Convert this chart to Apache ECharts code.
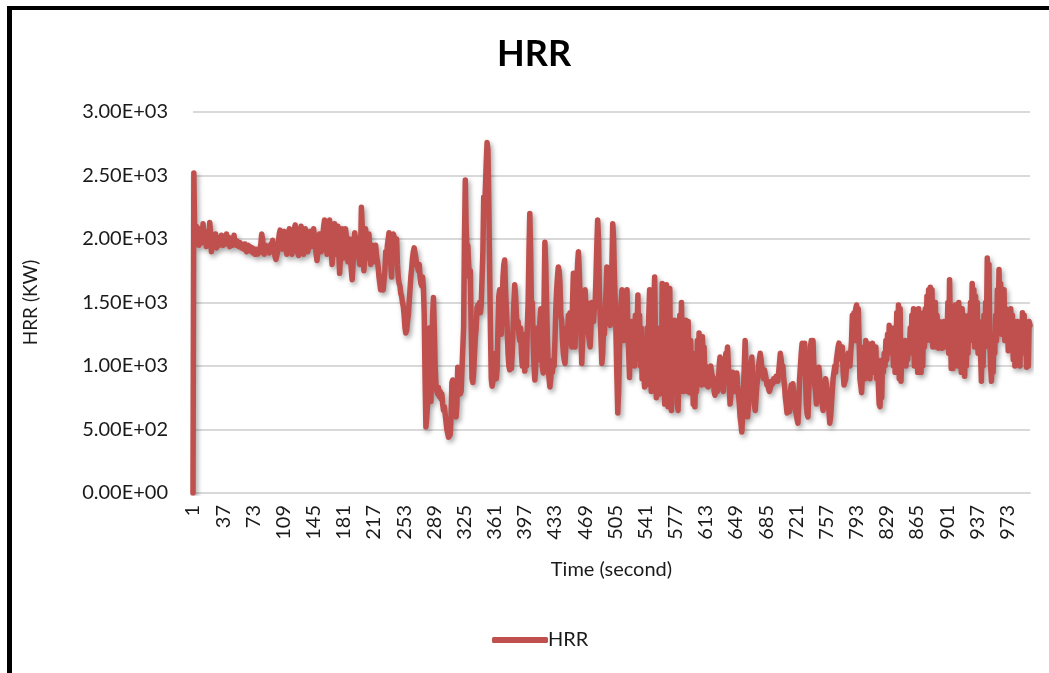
<!DOCTYPE html>
<html>
<head>
<meta charset="utf-8">
<title>HRR</title>
<script src="https://cdn.jsdelivr.net/npm/echarts@6/dist/echarts.min.js"></script>
<style>
  html, body { margin: 0; padding: 0; background: #fff; }
  #chart { width: 1049px; height: 673px; }
</style>
</head>
<body>
<div id="chart"></div>
<script>
// Heat release rate (kW), one reading per second, in 200-second blocks.
const hrr0001to0200 = [
  0, 2520, 2050, 1980, 2100, 2000, 2060, 1950, 2080, 2000, 2050, 1970, 2120, 2000, 1980, 2060, 1940, 2030, 2000, 1960,
  2130, 2050, 1900, 1990, 2020, 1960, 2000, 2040, 1930, 1990, 2010, 1950, 2000, 1970, 2030, 1980, 1950, 2000, 1960, 1990,
  2040, 1960, 1990, 2010, 1940, 1980, 2000, 1950, 1970, 2030, 1960, 1990, 1950, 1980, 1960, 1940, 1970, 1950, 1930, 1960,
  1950, 1920, 1960, 1940, 1900, 1930, 1950, 1910, 1940, 1920, 1900, 1930, 1890, 1910, 1880, 1920, 1900, 1880, 1910, 1890,
  1900, 1960, 2040, 2000, 1930, 1880, 1920, 1950, 1900, 1940, 1910, 1890, 1930, 1960, 1920, 1990, 1950, 1900, 1860, 1840,
  1830, 1900, 1980, 2040, 2070, 2000, 1950, 1920, 1980, 2060, 2000, 1920, 1880, 1950, 2030, 2080, 2000, 1930, 1880, 1920,
  2000, 2080, 2110, 2040, 1960, 1890, 1870, 1950, 2050, 2100, 2000, 1920, 1880, 1990, 2080, 2050, 1960, 1900, 1950, 2030,
  2060, 2000, 1940, 2020, 2080, 2000, 1950, 1880, 1830, 1900, 1980, 2040, 1970, 1900, 1950, 2030, 2100, 2150, 2060, 1950,
  1880, 1950, 2080, 2150, 2050, 1920, 1800, 1900, 2070, 2120, 2000, 1880, 1950, 2100, 1900, 1730, 1850, 2000, 2080, 1950,
  1850, 1950, 2080, 2020, 1900, 1820, 1900, 2000, 1850, 1750, 1680, 1800, 1950, 2050, 2000, 1900, 1950, 2000, 1850, 1800
];
const hrr0201to0400 = [
  1900, 2250, 2100, 1850, 1750, 1900, 2080, 1950, 1850, 1950, 2040, 1900, 1800, 1850, 1950, 1900, 1820, 1900, 1950, 1870,
  1830, 1780, 1700, 1650, 1600, 1700, 1620, 1600, 1590, 1750, 1900, 1850, 1950, 2000, 2050, 2050, 1800, 1700, 1950, 2040,
  2040, 2000, 1900, 2000, 1800, 1700, 1650, 1630, 1570, 1550, 1500, 1470, 1400, 1300, 1260, 1280, 1350, 1400, 1500, 1600,
  1700, 1770, 1850, 1900, 1930, 1920, 1850, 1800, 1780, 1750, 1800, 1700, 1650, 1630, 1700, 1620, 1400, 900, 520, 600,
  700, 900, 1300, 800, 720, 1100, 1400, 1540, 1300, 1000, 850, 800, 780, 830, 760, 800, 740, 780, 700, 650,
  680, 620, 560, 500, 470, 440, 430, 460, 600, 870, 890, 750, 650, 620, 600, 700, 990, 900, 800, 780,
  800, 790, 800, 1300, 2000, 2465, 2100, 1900, 1950, 1800, 1700, 1750, 1300, 900, 870, 950, 1100, 1230, 1300, 1460,
  1480, 1440, 1500, 1420, 1480, 1480, 1900, 2330, 2250, 2400, 2600, 2760, 2700, 2300, 1800, 1300, 900, 840, 880, 950,
  1000, 1100, 900, 980, 1300, 1550, 1600, 1400, 1250, 1500, 1700, 1800, 1835, 1600, 1450, 1300, 1100, 1000, 970, 1050,
  980, 1100, 1300, 1500, 1640, 1550, 1400, 1300, 1350, 1250, 1200, 1300, 1100, 1000, 1250, 1150, 960, 1100, 1000, 1300
];
const hrr0401to0600 = [
  1500, 1900, 2200, 1900, 1400, 1500, 1200, 1000, 890, 1000, 1150, 1300, 1200, 1050, 1350, 1450, 1250, 1000, 945, 1500,
  1975, 1800, 1500, 1200, 1000, 900, 835, 900, 1000, 950, 1050, 1000, 1200, 1450, 1600, 1700, 1780, 1750, 1650, 1400,
  1360, 1200, 1100, 1050, 1020, 1150, 1300, 1250, 1400, 1300, 1420, 1200, 1150, 1500, 1730, 1400, 1150, 1350, 1600, 1800,
  1900, 1750, 1550, 1300, 1020, 1200, 1400, 1500, 1600, 1450, 1500, 1300, 1250, 1200, 1150, 1300, 1500, 1400, 1350, 1450,
  1500, 1700, 1950, 2150, 2000, 1600, 1400, 1200, 1020, 1100, 1300, 1250, 1400, 1600, 1780, 1650, 1500, 1350, 1320, 1500,
  1800, 2120, 2000, 1700, 1500, 1200, 900, 630, 800, 1100, 1400, 1500, 1600, 1300, 1200, 1400, 1550, 1350, 1600, 1300,
  1100, 910, 1300, 1000, 1350, 1100, 1250, 1000, 1400, 1050, 1300, 1560, 1150, 1400, 1000, 1300, 900, 1200, 950, 835,
  1200, 850, 1300, 900, 1400, 1600, 1000, 800, 1300, 900, 1500, 1700, 1200, 750, 1300, 900, 1200, 780, 1100, 800,
  1650, 800, 1200, 700, 1300, 1640, 900, 680, 1200, 1610, 1000, 650, 1100, 800, 1250, 1360, 900, 1200, 700, 650,
  1000, 1400, 900, 1500, 1100, 800, 1300, 900, 1360, 1100, 800, 1350, 1000, 790, 1200, 900, 1100, 700, 950, 680
];
const hrr0601to0800 = [
  1000, 800, 1200, 900, 1260, 950, 1100, 850, 1230, 1000, 1150, 900, 1000, 850, 950, 835, 950, 880, 1000, 940,
  945, 900, 800, 770, 820, 900, 800, 850, 1000, 1070, 1050, 900, 850, 800, 950, 1000, 1100, 1050, 1150, 1000,
  850, 700, 780, 900, 950, 870, 850, 800, 900, 945, 850, 780, 700, 600, 550, 480, 600, 800, 1000, 1200,
  1000, 800, 600, 700, 850, 950, 1000, 1070, 900, 800, 700, 650, 750, 850, 900, 1000, 1050, 1100, 1050, 980,
  950, 900, 970, 960, 900, 850, 880, 820, 800, 790, 850, 880, 860, 900, 910, 880, 920, 900, 880, 950,
  1020, 1100, 1050, 950, 1000, 900, 850, 750, 700, 630, 650, 700, 640, 800, 850, 820, 860, 780, 700, 650,
  620, 580, 550, 700, 900, 1000, 1100, 1180, 1150, 1100, 1180, 900, 700, 620, 600, 800, 1000, 1150, 1200, 1100,
  1200, 1000, 850, 800, 700, 850, 950, 990, 900, 800, 750, 700, 650, 750, 850, 900, 910, 800, 750, 650,
  550, 600, 700, 800, 900, 950, 1000, 950, 1050, 1100, 1150, 1180, 1180, 1100, 1050, 1150, 950, 850, 840, 900,
  1000, 1050, 1100, 1080, 1000, 1100, 1200, 1400, 1300, 1420, 1200, 1450, 1480, 1350, 1450, 1200, 900, 850, 790, 950
];
const hrr0801to1000 = [
  1000, 1150, 900, 1200, 1050, 1180, 950, 1100, 900, 1150, 1000, 1180, 950, 1100, 1000, 1150, 900, 1050, 850, 700,
  680, 900, 750, 1050, 950, 1100, 1000, 1200, 1050, 1250, 1100, 1320, 1150, 1300, 1100, 1250, 1000, 1300, 950, 1100,
  1420, 1000, 1480, 900, 1450, 880, 1100, 1000, 1150, 1050, 1200, 1000, 1120, 1050, 1200, 1100, 1300, 1150, 1400, 1200,
  1450, 1000, 1420, 1100, 1300, 950, 1450, 1150, 1400, 950, 1200, 1000, 1420, 1150, 1450, 1200, 1550, 1250, 1600, 1400,
  1620, 1200, 1600, 1150, 1450, 1200, 1500, 1150, 1400, 1250, 1140, 1350, 1150, 1300, 1140, 1250, 1350, 1150, 1300, 1200,
  1250, 1500, 1100, 1680, 1300, 980, 1200, 980, 1400, 1100, 1480, 1200, 1450, 1000, 1500, 1100, 1350, 950, 1450, 1300,
  1400, 920, 1300, 1000, 1350, 1100, 1400, 1200, 1500, 1250, 1650, 1300, 1600, 1150, 1550, 1200, 1500, 1100, 1350, 1250,
  1100, 880, 1300, 1000, 1400, 1150, 1500, 1300, 1850, 1500, 1800, 1200, 1000, 880, 1100, 950, 1250, 1100, 1400, 1200,
  1600, 1300, 1760, 1400, 1650, 1250, 1550, 1300, 1600, 1200, 1450, 1250, 1400, 1120, 1350, 1150, 1450, 1200, 1400, 1050,
  1350, 1000, 1300, 1050, 1350, 1020, 1250, 1000, 1300, 1100, 1420, 1150, 1400, 1100, 1300, 990, 1250, 1000, 1350, 1320
];

const hrr = [].concat(hrr0001to0200, hrr0201to0400, hrr0401to0600, hrr0601to0800, hrr0801to1000);
// Category labels: elapsed time in seconds, starting at 1.
const seconds = hrr.map((_, i) => String(i + 1));

const yMin = 0, yMax = 3000, yStep = 500;
const labelEvery = 36;

// Scientific notation with a two-digit exponent, e.g. 2.50E+03.
function sci(v) {
  if (v === 0) return '0.00E+00';
  const e = Math.floor(Math.log10(Math.abs(v)));
  const m = v / Math.pow(10, e);
  return m.toFixed(2) + 'E' + (e < 0 ? '-' : '+') + String(Math.abs(e)).padStart(2, '0');
}

const FONT = 'Lato, "Open Sans", sans-serif';
const RED = '#C0504D';
const chart = echarts.init(document.getElementById('chart'), null, { renderer: 'canvas' });

chart.setOption({
  animation: false,
  backgroundColor: '#ffffff',
  textStyle: { fontFamily: FONT },
  title: {
    text: 'HRR',
    left: 492,
    top: 31,
    textStyle: { fontFamily: FONT, fontSize: 36, fontWeight: 'bold', color: '#000' }
  },
  legend: {
    left: 487,
    top: 625,
    itemWidth: 56,
    itemHeight: 6,
    data: [{ name: 'HRR', icon: 'roundRect' }],
    itemStyle: { color: RED, borderWidth: 0 },
    textStyle: { fontFamily: FONT, fontSize: 20, color: '#1a1a1a', padding: [0, 0, 0, -5] }
  },
  grid: { left: 193, right: 19, top: 112, bottom: 180, containLabel: false },
  xAxis: {
    type: 'category',
    data: seconds,
    boundaryGap: false,
    name: 'Time (second)',
    nameLocation: 'middle',
    nameGap: 67,
    nameTextStyle: { fontFamily: FONT, fontSize: 20, color: '#1a1a1a' },
    axisLine: { lineStyle: { color: '#d9d9d9', width: 2 } },
    axisTick: { show: false },
    axisLabel: {
      interval: labelEvery - 1,
      rotate: 90,
      margin: 12,
      fontFamily: FONT,
      fontSize: 20,
      color: '#1a1a1a'
    },
    splitLine: { show: false }
  },
  yAxis: {
    type: 'value',
    min: yMin,
    max: yMax,
    interval: yStep,
    name: 'HRR (KW)',
    nameLocation: 'middle',
    nameGap: 153,
    nameTextStyle: { fontFamily: FONT, fontSize: 19, color: '#1a1a1a' },
    axisLine: { show: false },
    axisTick: { show: false },
    axisLabel: { formatter: sci, margin: 25, fontFamily: FONT, fontSize: 20, color: '#1a1a1a' },
    splitLine: { lineStyle: { color: '#d9d9d9', width: 2 } }
  },
  series: [{
    name: 'HRR',
    type: 'line',
    data: hrr,
    symbol: 'none',
    showSymbol: false,
    sampling: null,
    lineStyle: {
      color: RED,
      width: 5.5,
      cap: 'round',
      join: 'round',
      shadowColor: 'rgba(0,0,0,0.35)',
      shadowBlur: 5,
      shadowOffsetX: 2,
      shadowOffsetY: 3
    },
    itemStyle: { color: RED }
  }],
  graphic: [
    { type: 'rect', shape: { x: 7, y: 6, width: 1042, height: 4 }, style: { fill: '#000' }, silent: true },
    { type: 'rect', shape: { x: 7, y: 6, width: 5, height: 667 }, style: { fill: '#000' }, silent: true }
  ]
});
</script>
</body>
</html>
